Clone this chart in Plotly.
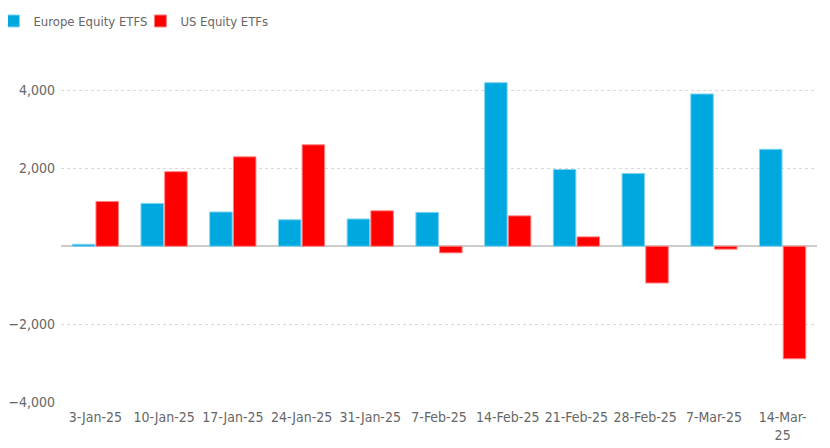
import plotly.graph_objects as go

categories = ["3-Jan-25", "10-Jan-25", "17-Jan-25", "24-Jan-25", "31-Jan-25", "7-Feb-25",
              "14-Feb-25", "21-Feb-25", "28-Feb-25", "7-Mar-25", "14-Mar-25"]
tick_labels = ["3-Jan-25", "10-Jan-25", "17-Jan-25", "24-Jan-25", "31-Jan-25", "7-Feb-25",
               "14-Feb-25", "21-Feb-25", "28-Feb-25", "7-Mar-25", "14-Mar-<br>25"]
europe = [50, 1100, 880, 680, 700, 870, 4200, 1970, 1870, 3910, 2490]
us = [1150, 1915, 2295, 2605, 910, -170, 780, 240, -945, -75, -2890]
y_ticks = [-4000, -2000, 2000, 4000]
y_tick_labels = ["\u22124,000", "\u22122,000", "2,000", "4,000"]

FONT = "DejaVu Sans Condensed, Liberation Sans Narrow, Roboto, sans-serif"

fig = go.Figure()
fig.add_trace(go.Bar(name="Europe Equity ETFS", x=categories, y=europe,
                     marker=dict(color="#00A8E0", line=dict(color="#7fd3f0", width=1))))
fig.add_trace(go.Bar(name="US Equity ETFs", x=categories, y=us,
                     marker=dict(color="#FF0000", line=dict(color="#ff8080", width=1))))

fig.update_layout(
    width=822, height=440,
    margin=dict(l=53, r=13, t=63, b=46, autoexpand=False),
    paper_bgcolor="white", plot_bgcolor="white",
    font=dict(family=FONT, size=14, color="#666666"),
    barmode="group", bargap=0.31, bargroupgap=0.05,
    showlegend=True,
    legend=dict(orientation="h", x=-0.0894, y=1.151, xanchor="left", yanchor="middle",
                font=dict(family=FONT, size=13, color="#666666"),
                itemwidth=30, entrywidth=102, tracegroupgap=0, traceorder="normal"),
    xaxis=dict(tickmode="array", tickvals=categories, ticktext=tick_labels,
               showgrid=False, showline=False, ticks="", tickfont=dict(size=14),
               ticklabelstandoff=5, automargin=False),
    yaxis=dict(range=[-4000, 4500], tickvals=y_ticks, ticktext=y_tick_labels,
               showgrid=True, gridcolor="#d9d9d9", griddash="dot", gridwidth=1,
               zeroline=True, zerolinecolor="#cccccc", zerolinewidth=2,
               ticks="", ticklen=0, showline=False, tickfont=dict(size=14),
               ticklabelstandoff=5, automargin=False),
)

fig.write_html("out.html")
